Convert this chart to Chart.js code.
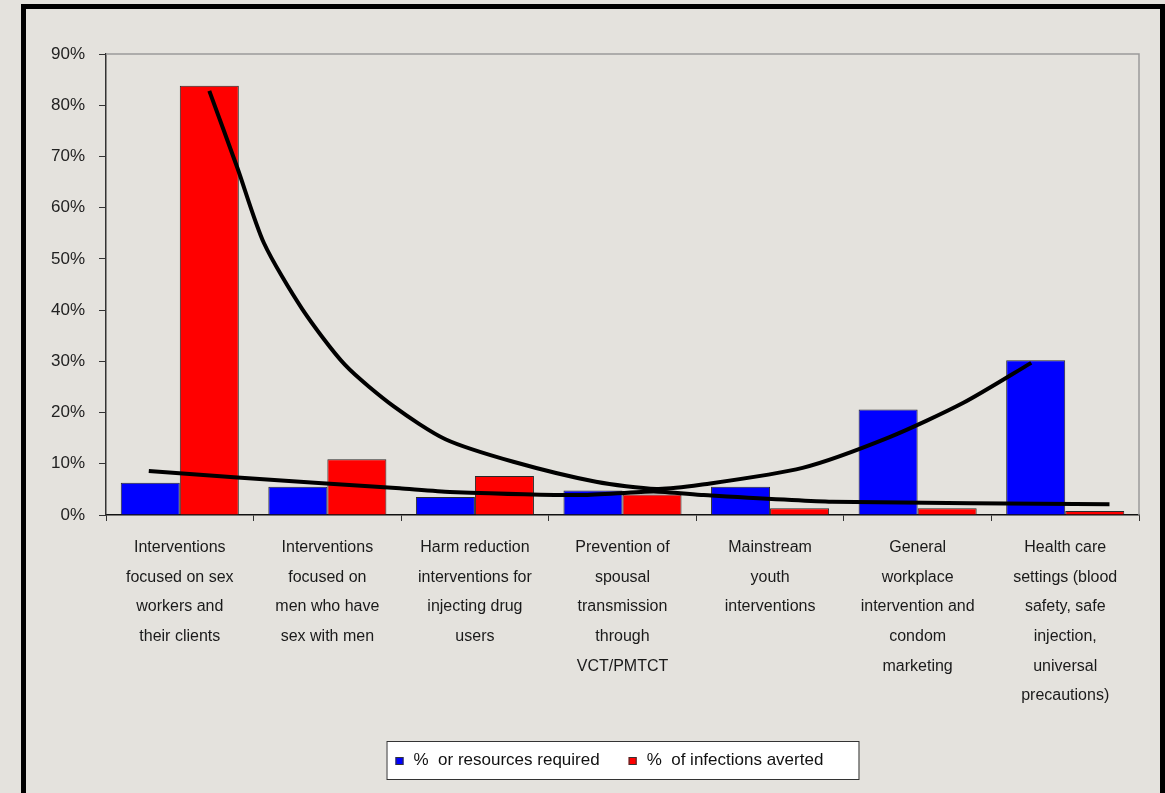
<!DOCTYPE html>
<html>
<head>
<meta charset="utf-8">
<script src="https://cdn.jsdelivr.net/npm/chart.js@4"></script>
<style>
  html, body { margin: 0; padding: 0; overflow: hidden; }
  body { width: 1165px; height: 793px; background: #e4e2dd; position: relative; font-family: "Liberation Sans", Arial, sans-serif; }
  .frame { position: absolute; left: 21px; top: 4px; width: 1134px; height: 900px; border: 5px solid #000; }
  #chart { position: absolute; left: 0; top: 0; }
</style>
</head>
<body>
<div class="frame"></div>
<canvas id="chart" width="1165" height="793"></canvas>
<script>
// categories (multi-line labels)
const categories = [
    ['Interventions', 'focused on sex', 'workers and', 'their clients'],
    ['Interventions', 'focused on', 'men who have', 'sex with men'],
    ['Harm reduction', 'interventions for', 'injecting drug', 'users'],
    ['Prevention of', 'spousal', 'transmission', 'through', 'VCT/PMTCT'],
    ['Mainstream', 'youth', 'interventions'],
    ['General', 'workplace', 'intervention and', 'condom', 'marketing'],
    ['Health care', 'settings (blood', 'safety, safe', 'injection,', 'universal', 'precautions)']
];

// % values
const resourcesRequired = [6.3, 5.5, 3.5, 4.8, 5.5, 20.6, 30.2];
const infectionsAverted = [83.8, 10.9, 7.6, 4.0, 1.3, 1.3, 0.8];

// hand-drawn trend curves, x in category units (0 = first category centre)
const curveX = [0.20, 0.39, 0.57, 0.83, 1.12, 1.45, 1.80, 2.26, 2.82, 3.23, 3.53, 4.22, 4.81, 5.31, 5.77];
const curveY = [82.8, 67.8, 53.1, 40.2, 29.3, 21.2, 14.8, 10.4, 6.5, 5.1, 5.9, 9.2, 15.2, 21.9, 29.7];
const flatX = [-0.21, 0.39, 1.49, 1.83, 2.73, 3.21, 3.55, 4.42, 6.30];
const flatY = [8.6, 7.3, 5.2, 4.5, 3.9, 4.6, 3.9, 2.6, 2.1];

const yTicks = [0, 10, 20, 30, 40, 50, 60, 70, 80, 90];

const FONT = '"Liberation Sans", Arial, sans-serif';

// grey border on top and right of the plot
const plotBorder = {
    id: 'plotBorder',
    beforeDatasetsDraw(chart) {
        const { ctx, chartArea: a } = chart;
        ctx.save();
        ctx.strokeStyle = '#9a9a9a';
        ctx.lineWidth = 1.5;
        ctx.beginPath();
        ctx.moveTo(a.left, a.top);
        ctx.lineTo(a.right, a.top);
        ctx.lineTo(a.right, a.bottom);
        ctx.stroke();
        ctx.restore();
    }
};

// boxed legend under the category labels
const boxLegend = {
    id: 'boxLegend',
    afterDraw(chart) {
        const { ctx, chartArea: a } = chart;
        const w = 472, h = 38;
        const left = (a.left + a.right) / 2 - w / 2;
        const top = a.bottom + 226;
        ctx.save();
        ctx.fillStyle = '#ffffff';
        ctx.fillRect(left, top, w, h);
        ctx.strokeStyle = '#333';
        ctx.lineWidth = 1;
        ctx.strokeRect(left + 0.5, top + 0.5, w, h);
        ctx.font = '17px ' + FONT;
        ctx.textBaseline = 'middle';
        let x = left + 9;
        const cy = top + h / 2;
        chart.data.datasets.filter(d => d.type !== 'line').forEach(d => {
            ctx.fillStyle = d.backgroundColor;
            ctx.fillRect(x, cy - 3, 8, 8);
            ctx.strokeStyle = '#333';
            ctx.strokeRect(x + 0.5, cy - 2.5, 7, 7);
            ctx.fillStyle = '#111';
            ctx.fillText(d.label, x + 18, cy);
            x += 18 + ctx.measureText(d.label).width + 29;
        });
        ctx.restore();
    }
};

const barOpts = {
    borderColor: '#2a2a2a',
    borderWidth: 1,
    categoryPercentage: 0.8,
    barPercentage: 1.0,
    order: 2
};

const lineOpts = {
    type: 'line',
    borderColor: '#000',
    borderWidth: 4,
    pointRadius: 0,
    fill: false,
    order: 1
};

new Chart(document.getElementById('chart'), {
    type: 'bar',
    data: {
        datasets: [
            {
                ...barOpts,
                label: '%  or resources required',
                data: resourcesRequired.map((y, i) => ({ x: i, y })),
                backgroundColor: '#0000ff'
            },
            {
                ...barOpts,
                label: '%  of infections averted',
                data: infectionsAverted.map((y, i) => ({ x: i, y })),
                backgroundColor: '#ff0000'
            },
            {
                ...lineOpts,
                label: 'curve',
                data: curveX.map((x, i) => ({ x, y: curveY[i] })),
                tension: 0.25
            },
            {
                ...lineOpts,
                label: 'flat',
                data: flatX.map((x, i) => ({ x, y: flatY[i] })),
                tension: 0.2
            }
        ]
    },
    options: {
        responsive: false,
        animation: false,
        layout: { padding: { left: 0, right: 26, top: 54, bottom: 0 } },
        plugins: { legend: { display: false }, tooltip: { enabled: false } },
        scales: {
            x: {
                type: 'linear',
                offset: false,
                min: -0.5,
                max: 6.5,
                afterFit: s => { s.height = 278; },
                afterBuildTicks: s => { s.ticks = categories.map((_, i) => ({ value: i })); },
                grid: { offset: true, drawOnChartArea: false, tickLength: 6, color: '#333' },
                border: { color: '#111', width: 1.5 },
                ticks: {
                    autoSkip: false, maxRotation: 0, padding: 12,
                    color: '#1a1a1a',
                    font: { family: FONT, size: 16, lineHeight: '29.6px' },
                    callback: v => categories[v]
                }
            },
            y: {
                min: 0,
                max: 90,
                afterFit: s => { s.width = 106; },
                afterBuildTicks: s => { s.ticks = yTicks.map(v => ({ value: v })); },
                grid: { drawOnChartArea: false, tickLength: 7, color: '#333' },
                border: { color: '#333', width: 1.5 },
                ticks: {
                    padding: 14,
                    color: '#222',
                    font: { family: FONT, size: 17 },
                    callback: v => v + '%'
                }
            }
        }
    },
    plugins: [plotBorder, boxLegend]
});
</script>
</body>
</html>
